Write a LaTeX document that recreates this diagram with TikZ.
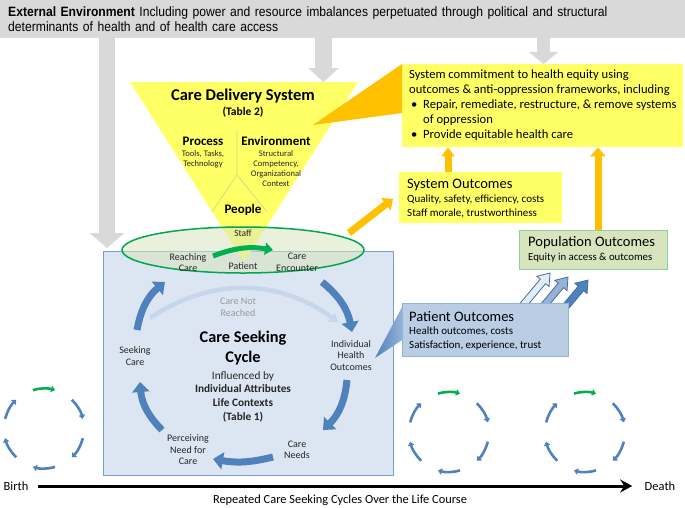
\documentclass[tikz,border=0pt]{standalone}
\usepackage{fontspec}
\setmainfont{Carlito}
\newfontfamily\narrowfont[FakeStretch=0.9]{Liberation Sans}
\usetikzlibrary{arrows.meta}
\usetikzlibrary{positioning}
\usetikzlibrary{shapes.geometric}

\definecolor{extgray}{HTML}{D9D9D9}
\definecolor{delyellow}{HTML}{FFFF66}
\definecolor{eqorange}{HTML}{FFC000}
\definecolor{cycblue}{HTML}{4F81BD}
\definecolor{boxblue}{HTML}{DCE6F2}
\definecolor{patblue}{HTML}{B9CDE5}
\definecolor{patlight}{HTML}{E4ECF6}
\definecolor{patmid}{HTML}{95B3D7}
\definecolor{encgreen}{HTML}{00A651}
\definecolor{arrowgreen}{HTML}{00B050}
\definecolor{popgreen}{HTML}{D7E4BD}
\definecolor{popborder}{HTML}{8CD19D}
\definecolor{notreached}{HTML}{C6D6EB}

\tikzset{
  graypointer/.style={extgray, -{Triangle[width=30pt,length=14pt]}},
  cyclearrow/.style={cycblue, line width=7pt, -{Triangle[width=17pt,length=10pt]}},
  orangearrow/.style={eqorange, line width=7pt, -{Triangle[width=15pt,length=9pt]}},
  minicycle/.style={cycblue, line width=2.6pt, -{Triangle[width=6.5pt,length=4pt]}},
  steplabel/.style={align=center, text=black!85, font=\fontsize{10}{11.5}\selectfont, inner sep=0pt},
  smalltext/.style={align=center, text=black!85, font=\fontsize{8.6}{10}\selectfont, inner sep=0pt},
  parttitle/.style={inner sep=0pt, font=\bfseries\fontsize{13}{15}\selectfont},
  outcomebox/.style={anchor=north west, inner sep=0pt},
  boxtitle/.style={anchor=west, inner sep=0pt, font=\fontsize{14.5}{16}\selectfont},
  boxtext/.style={anchor=west, align=left, inner sep=0pt, font=\fontsize{11}{14}\selectfont},
}

\begin{document}
\begin{tikzpicture}[x=1pt,y=1pt]
  \useasboundingbox (0,0) rectangle (685,-507);

  % external environment
  \node[fill=extgray, anchor=north west, minimum width=685pt, minimum height=38pt,
        text width=669pt, inner xsep=8pt, align=left,
        font=\narrowfont\fontsize{13.5}{14.5}\selectfont] (ext) at (0,0)
    {\textbf{External Environment} Including power and resource imbalances perpetuated through political and structural\\
     determinants of health and of health care access};
  \coordinate (ext l) at (107,-38);
  \coordinate (ext m) at (323.5,-38);
  \coordinate (ext r) at (543.5,-38);
  \coordinate (cyc top) at (107,-248);
  \coordinate (cds top) at (323.5,-82);
  \coordinate (eq top) at (543.5,-64);
  \draw[graypointer, line width=16pt, -{Triangle[width=34pt,length=15pt]}] (ext l) -- (cyc top);
  \draw[graypointer, line width=17pt] (ext m) -- (cds top);
  \draw[graypointer, line width=13pt, -{Triangle[width=29pt,length=12pt]}] (ext r) -- (eq top);

  % care seeking cycle box
  \node[draw=cycblue!75, line width=1pt, fill=boxblue, anchor=north west,
        minimum width=290pt, minimum height=224pt] (cycbox) at (103,-251) {};

  % care delivery system
  \coordinate (cds l) at (130,-82);
  \coordinate (cds r) at (358,-82);
  \coordinate (cds tip) at (244,-262);
  \fill[delyellow] (cds l) -- (cds r) -- (cds tip) -- cycle;
  \coordinate (fork) at (237,-175);
  \draw[olive!35, line width=0.7pt] (237,-130) -- (fork) -- (212,-212) (fork) -- (267,-212);

  % equity commitment
  \node[fill=delyellow, outcomebox, minimum width=281pt, minimum height=83pt] (equity) at (402,-64) {};
  \fill[eqorange] (313,-125) -- (equity.north west) -- (402,-113) -- cycle;
  \node[anchor=west, align=left, inner sep=0pt, font=\fontsize{12.6}{15}\selectfont] (equity text) at (409,-105.5)
    {System commitment to health equity using\\
     outcomes \& anti-oppression frameworks, including\\
     \makebox[14pt][l]{\hspace{2pt}\textbullet}Repair, remediate, restructure, \& remove systems\\
     \hspace*{14pt}of oppression\\
     \makebox[14pt][l]{\hspace{2pt}\textbullet}Provide equitable health care};

  % system outcomes
  \node[fill=delyellow, outcomebox, minimum width=163pt, minimum height=51pt] (sysout) at (399,-172) {};
  \node[boxtitle] (sysout title) at (407,-185) {System Outcomes};
  \node[boxtext] (sysout text) at (407,-206) {Quality, safety, efficiency,\ costs\\Staff morale, trustworthiness};

  % population outcomes
  \node[fill=popgreen, draw=popborder, line width=1pt, outcomebox, minimum width=148pt, minimum height=39pt] (popout) at (519,-230) {};
  \node[boxtitle] (popout title) at (528,-243) {Population Outcomes};
  \node[boxtext, font=\fontsize{10.8}{12}\selectfont] (popout text) at (528,-258) {Equity in access \& outcomes};

  \draw[orangearrow, -{Triangle[width=13pt,length=9pt]}] ([xshift=49pt]sysout.north west) -- ([xshift=46pt]equity.south west);
  \draw[orangearrow] ([xshift=79pt]popout.north west) -- ([xshift=196pt]equity.south west);

  % patient outcomes
  \foreach \tx/\ty/\col in {550/-273/patlight, 568/-277/patmid, 588/-280/cycblue} {
    \filldraw[draw=cycblue!85!black, fill=\col, line width=0.8pt, shift={(\tx,\ty)}, rotate=50]
      (0,0) -- (-11,8) -- (-11,3.5) -- (-55,3.5) -- (-55,-3.5) -- (-11,-3.5) -- (-11,-8) -- cycle;
  }
  \shade[left color=cycblue, right color=patmid] (375,-358) -- (402,-307) -- (402,-340) -- cycle;
  \node[fill=patblue, draw=cycblue!60, line width=1pt, outcomebox, minimum width=166pt, minimum height=53pt] (patout) at (402,-303) {};
  \node[boxtitle] (patout title) at (409,-317) {Patient Outcomes};
  \node[boxtext] (patout text) at (409,-339) {Health outcomes, costs\\Satisfaction, experience,\ trust};

  % care encounter
  \node[ellipse, draw=encgreen, line width=1.5pt, fill=popgreen, fill opacity=0.55,
        minimum width=242pt, minimum height=46pt, inner sep=0pt] (encounter) at (243,-250) {};
  \coordinate (enc out) at (349,-233);
  \draw[orangearrow] (enc out) -- ([xshift=-6pt,yshift=-1pt]sysout.west);

  \node[font=\bfseries\fontsize{16.5}{18}\selectfont] (cds title) at (243,-96) {Care Delivery System};
  \node[font=\bfseries\fontsize{11.5}{13}\selectfont, inner sep=0pt] (table two) at (243,-112) {(Table 2)};
  \node[parttitle] (process) at (203,-141) {Process};
  \node[smalltext] (tools) at (203,-159) {Tools, Tasks,\\Technology};
  \node[parttitle] (environment) at (276,-141) {Environment};
  \node[smalltext] (structural) at (276,-169) {Structural\\Competency,\\Organizational\\Context};
  \node[parttitle] (people) at (243,-210) {People};
  \node[smalltext, font=\fontsize{9.5}{10}\selectfont] (staff) at (243,-233) {Staff};

  \node[steplabel] (reaching) at (188,-262.5) {Reaching\\Care};
  \node[steplabel] (patient) at (243,-266) {Patient};
  \node[steplabel] (care encounter) at (297,-262.5) {Care\\Encounter};
  \draw[arrowgreen, line width=5pt, -{Triangle[width=12pt,length=8pt]}] (213,-256) to[bend left=15] (273,-250);

  % care seeking cycle
  \draw[notreached, line width=4.5pt, -{Triangle[width=11pt,length=8pt]}] (150,-318) to[bend left=35] (338,-322);
  \node[steplabel, text=black!40] (not reached) at (238,-307.5) {Care Not\\Reached};

  \coordinate (seek out) at (137,-330);
  \coordinate (reach in) at (165,-282);
  \coordinate (enc down) at (322,-282);
  \coordinate (health in) at (352,-332);
  \coordinate (health out) at (347,-380);
  \coordinate (needs in) at (323,-430);
  \coordinate (needs out) at (273,-457);
  \coordinate (perc in) at (213,-459);
  \coordinate (perc out) at (162,-430);
  \coordinate (seek in) at (140,-382);
  \draw[cyclearrow] (seek out) to[bend left=20] (reach in);
  \draw[cyclearrow] (enc down) to[bend left=20] (health in);
  \draw[cyclearrow] (health out) to[bend left=20] (needs in);
  \draw[cyclearrow] (needs out) to[bend left=12] (perc in);
  \draw[cyclearrow] (perc out) to[bend left=20] (seek in);

  \node[steplabel] (seeking) at (135,-356) {Seeking\\Care};
  \node[steplabel] (health outcomes) at (351,-355.5) {Individual\\Health\\Outcomes};
  \node[steplabel] (perceiving) at (188,-450) {Perceiving\\Need for\\Care};
  \node[steplabel] (care needs) at (297,-450) {Care\\Needs};
  \node[align=center, inner sep=0pt, font=\bfseries\fontsize{16.3}{20}\selectfont] (cycle title) at (243,-348) {Care Seeking\\Cycle};
  \node[align=center, inner sep=0pt, text=black!85, font=\fontsize{11.3}{13.7}\selectfont] (influence) at (243,-396.5)
    {Influenced by\\\textbf{Individual Attributes}\\\textbf{Life Contexts}\\\textbf{(Table 1)}};

  % repeated cycles
  \foreach \cx/\cy in {44/-428.5, 449/-432, 585/-432} {
    \foreach \a [evaluate=\a as \s using \a+16, evaluate=\a as \e using \a-16] in {30,-30,-90,-150,150}
      \draw[minicycle] ([shift={(\cx,\cy)}]\s:40) arc[start angle=\s, end angle=\e, radius=40];
    \draw[minicycle, arrowgreen] ([shift={(\cx,\cy)}]106:40) arc[start angle=106, end angle=74, radius=40];
  }

  % life course
  \node[font=\fontsize{12.5}{14}\selectfont] (birth) at (16,-486) {Birth};
  \node[font=\fontsize{12.5}{14}\selectfont] (death) at (660,-486) {Death};
  \draw[line width=3pt, -{Stealth[width=13pt,length=12pt]}, shorten <=6pt, shorten >=9pt] (birth) -- (death);
  \node[font=\fontsize{12.4}{14}\selectfont] (life course) at (340,-500) {Repeated Care Seeking Cycles Over the Life Course};
\end{tikzpicture}
\end{document}
